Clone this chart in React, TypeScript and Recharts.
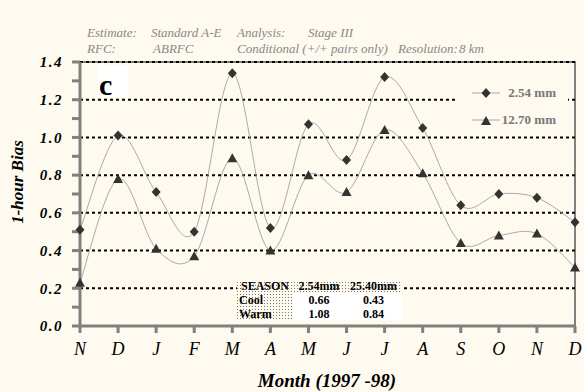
import React from 'react';
import { LineChart, Line, XAxis, YAxis, ReferenceLine, ReferenceArea, Legend } from 'recharts';

// Nov 1997 .. Dec 1998
const months = ['N', 'D', 'J', 'F', 'M', 'A', 'M', 'J', 'J', 'A', 'S', 'O', 'N', 'D'];
const bias254 = [0.51, 1.01, 0.71, 0.5, 1.34, 0.52, 1.07, 0.88, 1.32, 1.05, 0.64, 0.7, 0.68, 0.55];
const bias1270 = [0.23, 0.78, 0.41, 0.37, 0.89, 0.4, 0.8, 0.71, 1.04, 0.81, 0.44, 0.48, 0.49, 0.31];
const seriesNames = ['2.54 mm', '12.70 mm'];

const yTicks = [0, 0.1, 0.2, 0.3, 0.4, 0.5, 0.6, 0.7, 0.8, 0.9, 1.0, 1.1, 1.2, 1.3, 1.4];
const gridLevels = [0.2, 0.4, 0.6, 0.8, 1.0, 1.2, 1.4];

const headerRow1 = ['Estimate:', 'Standard A-E', 'Analysis:', 'Stage III'];
const headerRow2 = ['RFC:', 'ABRFC', 'Conditional (+/+ pairs only)', 'Resolution:', '8 km'];

const tableHeader = ['SEASON', '2.54mm', '25.40mm'];
const tableRows = [
  ['Cool', '0.66', '0.43'],
  ['Warm', '1.08', '0.84'],
];

const data = months.map((m, i) => ({ month: m, small: bias254[i], large: bias1270[i] }));

const BG = '#fefaf0';
const AXIS = '#808080';
const SERIF = '"Liberation Serif", "Times New Roman", serif';

// excel-like smoothed line (catmull-rom through the points)
function smoothCurve(context: any) {
  let pts: number[][] = [];
  return {
    areaStart() {},
    areaEnd() {},
    lineStart() {
      pts = [];
    },
    point(x: number, y: number) {
      pts.push([+x, +y]);
    },
    lineEnd() {
      const n = pts.length;
      if (!n) return;
      context.moveTo(pts[0][0], pts[0][1]);
      for (let i = 0; i < n - 1; i++) {
        const p0 = pts[Math.max(i - 1, 0)];
        const p1 = pts[i];
        const p2 = pts[i + 1];
        const p3 = pts[Math.min(i + 2, n - 1)];
        context.bezierCurveTo(
          p1[0] + (p2[0] - p0[0]) / 6,
          p1[1] + (p2[1] - p0[1]) / 6,
          p2[0] - (p3[0] - p1[0]) / 6,
          p2[1] - (p3[1] - p1[1]) / 6,
          p2[0],
          p2[1]
        );
      }
    },
  };
}

const diamond = (cx: number, cy: number) =>
  `${cx},${cy - 5} ${cx + 4.5},${cy} ${cx},${cy + 5} ${cx - 4.5},${cy}`;
const triangle = (cx: number, cy: number) =>
  `${cx},${cy - 5} ${cx + 5},${cy + 4} ${cx - 5},${cy + 4}`;

const DiamondDot = (p: any) => <polygon key={`d-${p.index}`} points={diamond(p.cx, p.cy)} fill="#333" />;
const TriangleDot = (p: any) => <polygon key={`t-${p.index}`} points={triangle(p.cx, p.cy)} fill="#333" />;

function LegendBox() {
  const rows = [
    { name: seriesNames[0], shape: diamond(14, 6) },
    { name: seriesNames[1], shape: triangle(14, 7) },
  ];
  return (
    <div style={{ background: BG, width: 113, height: 52, paddingTop: 9, boxSizing: 'border-box' }}>
      {rows.map((r) => (
        <div key={r.name} style={{ display: 'flex', alignItems: 'center', height: 27, marginLeft: 17, width: 84 }}>
          <svg width={28} height={12}>
            <line x1={0} y1={6} x2={28} y2={6} stroke="#aaa" strokeWidth={1} />
            <polygon points={r.shape} fill="#333" />
          </svg>
          <span
            style={{ flex: 1, textAlign: 'right', fontFamily: SERIF, fontWeight: 'bold', fontSize: 13, color: '#777' }}
          >
            {r.name}
          </span>
        </div>
      ))}
    </div>
  );
}

function Overlay() {
  const head1X = [87, 151, 237, 308];
  const head2X = [87, 153, 237, 398, 459];
  const colX = [237, 293, 345, 402];
  const rowY = [280, 293, 306, 320];
  return (
    <svg width={584} height={392} style={{ position: 'absolute', left: 0, top: 0, pointerEvents: 'none' }}>
      <defs>
        <pattern id="stipple" width={3} height={3} patternUnits="userSpaceOnUse">
          <rect width={3} height={3} fill={BG} />
          <rect width={1} height={1} fill="#777" />
        </pattern>
      </defs>
      <g fontFamily={SERIF} fontStyle="italic" fontSize={13} fill="#888">
        {headerRow1.map((t, i) => (
          <text key={t} x={head1X[i]} y={37}>{t}</text>
        ))}
        {headerRow2.map((t, i) => (
          <text key={t} x={head2X[i]} y={53}>{t}</text>
        ))}
      </g>

      <rect x={98} y={65} width={30} height={32} fill="#fff" />
      <text x={99} y={95} fontFamily={SERIF} fontWeight="bold" fontSize={30}>c</text>

      <text
        transform="rotate(-90 17 182)"
        x={17}
        y={182}
        textAnchor="middle"
        dominantBaseline="central"
        fontFamily={SERIF}
        fontWeight="bold"
        fontStyle="italic"
        fontSize={17}
      >
        1-hour Bias
      </text>
      <text x={327} y={387} textAnchor="middle" fontFamily={SERIF} fontWeight="bold" fontStyle="italic" fontSize={19}>
        Month (1997 -98)
      </text>

      {/* season summary table */}
      <rect x={colX[0]} y={rowY[0]} width={colX[3] - colX[0]} height={rowY[3] - rowY[0]} fill="url(#stipple)" />
      <rect x={colX[1]} y={rowY[1]} width={colX[3] - colX[1]} height={rowY[3] - rowY[1]} fill="#fff" />
      <g fontFamily={SERIF} fontWeight="bold" fontSize={12} fill="#000">
        {tableHeader.map((t, c) => (
          <text key={t} x={(colX[c] + colX[c + 1]) / 2} y={rowY[1] - 3} textAnchor="middle">{t}</text>
        ))}
        {tableRows.map((row, r) =>
          row.map((t, c) => (
            <text
              key={`${r}-${c}`}
              x={c === 0 ? colX[0] + 2 : (colX[c] + colX[c + 1]) / 2}
              y={rowY[r + 2] - 2}
              textAnchor={c === 0 ? 'start' : 'middle'}
            >
              {t}
            </text>
          ))
        )}
      </g>
    </svg>
  );
}

export default function App() {
  return (
    <div style={{ position: 'absolute', left: 0, top: 0, width: 584, height: 392, background: BG }}>
      <LineChart width={584} height={392} data={data} margin={{ top: 62, right: 9, bottom: 0, left: 0 }}>
        {gridLevels.map((v) => (
          <ReferenceLine key={v} y={v} stroke="#000" strokeWidth={2} strokeDasharray="3 3" />
        ))}
        <ReferenceArea y1={0} y2={1.4} fill="none" stroke={AXIS} strokeWidth={2} />
        <XAxis
          dataKey="month"
          height={66}
          tickSize={7}
          tickMargin={9}
          axisLine={{ stroke: AXIS, strokeWidth: 3 }}
          tickLine={{ stroke: AXIS, strokeWidth: 3 }}
          tick={{ fill: '#000', fontFamily: SERIF, fontStyle: 'italic', fontSize: 18 }}
          interval={0}
        />
        <YAxis
          width={80}
          domain={[0, 1.4]}
          ticks={yTicks}
          interval={0}
          tickSize={8}
          tickMargin={9}
          tickFormatter={(v: number) => (Math.round(v * 10) % 2 === 0 ? v.toFixed(1) : '')}
          axisLine={{ stroke: AXIS, strokeWidth: 3 }}
          tickLine={{ stroke: AXIS, strokeWidth: 3 }}
          tick={{ fill: '#000', fontFamily: SERIF, fontStyle: 'italic', fontWeight: 'bold', fontSize: 15, letterSpacing: 1.5 }}
        />
        <Legend
          layout="horizontal"
          verticalAlign="middle"
          align="center"
          wrapperStyle={{ left: 455, top: 70, width: 113 }}
          content={() => <LegendBox />}
        />
        <Line
          dataKey="small"
          name={seriesNames[0]}
          type={smoothCurve as any}
          stroke="#aaa"
          strokeWidth={1}
          dot={DiamondDot}
          activeDot={false}
          isAnimationActive={false}
        />
        <Line
          dataKey="large"
          name={seriesNames[1]}
          type={smoothCurve as any}
          stroke="#aaa"
          strokeWidth={1}
          dot={TriangleDot}
          activeDot={false}
          isAnimationActive={false}
        />
      </LineChart>
      <Overlay />
    </div>
  );
}
